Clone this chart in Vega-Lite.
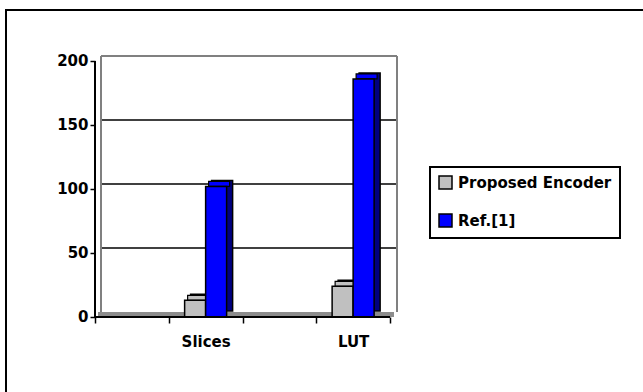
{
  "$schema": "https://vega.github.io/schema/vega-lite/v6.json",
  "width": 640,
  "height": 384,
  "autosize": {"type": "none"},
  "padding": {"left": 6, "top": 10, "right": 0, "bottom": 0},
  "background": "white",
  "config": {
    "view": {"stroke": "black", "strokeWidth": 2},
    "font": "DejaVu Sans",
    "axis": {
      "labelFont": "DejaVu Sans",
      "labelFontWeight": "bold",
      "labelFontSize": 15,
      "labelColor": "black",
      "tickColor": "black",
      "tickWidth": 1.5,
      "domain": false,
      "grid": false,
      "title": null
    },
    "axisY": {"offset": -89, "tickSize": 5, "labelPadding": 2},
    "axisX": {"offset": -77, "tickSize": 6, "labelPadding": 11, "tickBand": "extent", "labelAngle": 0},
    "legend": {
      "orient": "none",
      "legendX": 424,
      "legendY": 157,
      "strokeColor": "black",
      "strokeWidth": 2,
      "padding": 8,
      "labelFont": "DejaVu Sans",
      "labelFontWeight": "bold",
      "labelFontSize": 15,
      "labelColor": "black",
      "labelOffset": 5,
      "rowPadding": 19,
      "symbolType": "square",
      "symbolSize": 169,
      "symbolStrokeColor": "black",
      "symbolStrokeWidth": 1.5,
      "title": null
    }
  },
  "datasets": {
    "bars": [
      {"cat": "Slices", "series": "Proposed Encoder", "value": 13},
      {"cat": "Slices", "series": "Ref.[1]", "value": 102},
      {"cat": "LUT", "series": "Proposed Encoder", "value": 24},
      {"cat": "LUT", "series": "Ref.[1]", "value": 186}
    ],
    "grid": [{"v": 50}, {"v": 100}, {"v": 150}],
    "one": [{"k": 1}]
  },
  "resolve": {"scale": {"xOffset": "independent"}},
  "layer": [
    {
      "data": {"name": "grid"},
      "mark": {"type": "rule", "color": "black", "strokeWidth": 1.5, "yOffset": -5, "xOffset": 6, "x2Offset": 7},
      "encoding": {
        "y": {"field": "v", "type": "quantitative", "title": null,
              "scale": {"domain": [-60.16, 239.84], "nice": false, "zero": false}},
        "x": {"datum": "a", "type": "nominal", "bandPosition": 0, "title": null,
              "scale": {"domain": ["a", "Slices", "b", "LUT"], "paddingInner": 0, "paddingOuter": 0, "range": [89, 384]}},
        "x2": {"datum": "LUT", "bandPosition": 1}
      }
    },
    {
      "data": {"name": "one"},
      "mark": {"type": "rule", "color": "#808080", "strokeWidth": 2, "yOffset": -5, "xOffset": 6, "x2Offset": 7},
      "encoding": {
        "y": {"datum": 200, "type": "quantitative", "title": null},
        "x": {"datum": "a", "type": "nominal", "bandPosition": 0, "title": null},
        "x2": {"datum": "LUT", "bandPosition": 1}
      }
    },
    {
      "data": {"name": "one"},
      "mark": {"type": "rule", "color": "#808080", "strokeWidth": 2, "xOffset": 6, "yOffset": -5, "y2Offset": -5},
      "encoding": {
        "x": {"datum": "a", "type": "nominal", "bandPosition": 0, "title": null},
        "y": {"datum": 0, "type": "quantitative", "title": null},
        "y2": {"datum": 200}
      }
    },
    {
      "data": {"name": "one"},
      "mark": {"type": "rule", "color": "#808080", "strokeWidth": 2, "xOffset": 7, "yOffset": -5, "y2Offset": -5},
      "encoding": {
        "x": {"datum": "LUT", "type": "nominal", "bandPosition": 1, "title": null},
        "y": {"datum": 0, "type": "quantitative", "title": null},
        "y2": {"datum": 200}
      }
    },
    {
      "data": {"name": "one"},
      "mark": {"type": "rule", "color": "#8c8c8c", "strokeWidth": 5, "yOffset": -2.5, "xOffset": 3, "x2Offset": 4},
      "encoding": {
        "y": {"datum": 0, "type": "quantitative", "title": null},
        "x": {"datum": "a", "type": "nominal", "bandPosition": 0, "title": null},
        "x2": {"datum": "LUT", "bandPosition": 1}
      }
    },
    {
      "data": {"name": "bars"},
      "mark": {"type": "bar", "stroke": "black", "strokeWidth": 1.5, "yOffset": -6, "y2Offset": -6},
      "encoding": {
        "x": {"field": "cat", "type": "nominal", "title": null},
        "xOffset": {"field": "series", "type": "nominal", "sort": ["Proposed Encoder", "Ref.[1]"],
                    "scale": {"paddingInner": 0, "paddingOuter": 0.756, "align": 0.689}},
        "y": {"field": "value", "type": "quantitative", "title": null},
        "fill": {"condition": {"test": "datum.series === 'Ref.[1]'", "value": "#000080"}, "value": "#a6a6a6"}
      }
    },
    {
      "data": {"name": "bars"},
      "mark": {"type": "bar", "stroke": "black", "strokeWidth": 1.2, "yOffset": -5, "y2Offset": 0},
      "encoding": {
        "x": {"field": "cat", "type": "nominal", "title": null},
        "xOffset": {"field": "series", "type": "nominal", "sort": ["Proposed Encoder", "Ref.[1]"],
                    "scale": {"paddingInner": 0, "paddingOuter": 0.756, "align": 0.5945}},
        "y": {"field": "value", "type": "quantitative", "title": null},
        "y2": {"field": "value"},
        "fill": {"condition": {"test": "datum.series === 'Ref.[1]'", "value": "#0000ff"}, "value": "#c0c0c0"}
      }
    },
    {
      "data": {"name": "bars"},
      "mark": {"type": "bar", "stroke": "black", "strokeWidth": 1.5},
      "encoding": {
        "x": {"field": "cat", "type": "nominal", "title": null,
              "axis": {"labelExpr": "datum.value === 'a' || datum.value === 'b' ? '' : datum.value"}},
        "xOffset": {"field": "series", "type": "nominal", "sort": ["Proposed Encoder", "Ref.[1]"],
                    "scale": {"paddingInner": 0, "paddingOuter": 0.756, "align": 0.5}},
        "y": {"field": "value", "type": "quantitative", "title": null, "axis": {"values": [0, 50, 100, 150, 200]}},
        "color": {"field": "series", "type": "nominal", "title": null,
                  "scale": {"domain": ["Proposed Encoder", "Ref.[1]"], "range": ["#c0c0c0", "#0000ff"]}}
      }
    },
    {
      "data": {"name": "one"},
      "mark": {"type": "rule", "color": "black", "strokeWidth": 2},
      "encoding": {
        "x": {"datum": "a", "type": "nominal", "bandPosition": 0, "title": null},
        "y": {"datum": 0, "type": "quantitative", "title": null},
        "y2": {"datum": 200}
      }
    },
    {
      "data": {"name": "one"},
      "mark": {"type": "rule", "color": "black", "strokeWidth": 2},
      "encoding": {
        "y": {"datum": 0, "type": "quantitative", "title": null},
        "x": {"datum": "a", "type": "nominal", "bandPosition": 0, "title": null},
        "x2": {"datum": "LUT", "bandPosition": 1}
      }
    }
  ]
}
